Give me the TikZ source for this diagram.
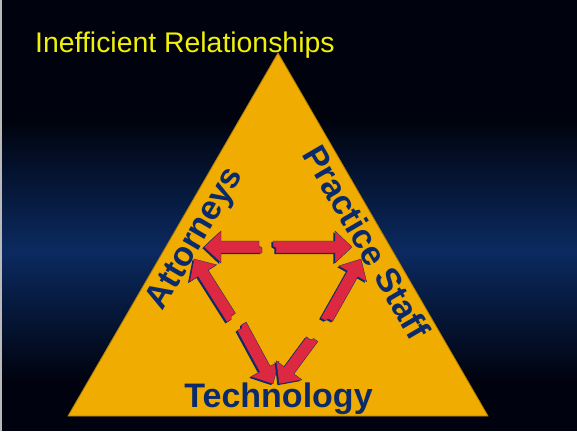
\documentclass[tikz,border=0pt]{standalone}
\usepackage{fontspec}
\setmainfont{Liberation Sans}
\usetikzlibrary{calc}
\definecolor{navy}{HTML}{0B2A6B}
\definecolor{arrred}{HTML}{DC2840}
\definecolor{gold}{HTML}{F0AC00}
\definecolor{golded}{HTML}{B07E08}
\definecolor{ttl}{HTML}{F0F00A}
\definecolor{bgtop}{HTML}{00030E}
\definecolor{bgmid}{HTML}{0B2A60}
\definecolor{bgbot}{HTML}{00030F}
\tikzset{
  arrshadow/.style={fill=navy, transform canvas={shift={(-1.6pt,-1.2pt)}}},
  arrbody/.style={fill=arrred, draw=navy, line width=0.3pt},
  label/.style={text=navy, font=\bfseries\fontsize{34}{36}\selectfont, inner sep=0pt},
}
\newcommand\blockarr[2]{%
  \path ($(#2)!17pt!(#1)$) coordinate (hb) ($(#1)!3pt!(#2)$) coordinate (tj);
  \foreach \sty in {arrshadow,arrbody}{%
    \path[\sty] ($(#1)!6pt!90:(#2)$) -- ($(hb)!6pt!90:(#2)$) -- ($(hb)!16pt!90:(#2)$) -- (#2)
      -- ($(hb)!16pt!-90:(#2)$) -- ($(hb)!6pt!-90:(#2)$) -- ($(tj)!6pt!-90:(#2)$)
      -- ($(tj)!1pt!-90:(#2)$) -- ($(#1)!1pt!90:(#2)$) -- cycle;}%
}
\begin{document}
\begin{tikzpicture}[x=1pt,y=1pt]
\useasboundingbox (0,0) rectangle (577,-431);
% background
\fill[bgtop] (0,0) rectangle (577,-120);
\fill[top color=bgtop,bottom color=bgmid] (0,-120) rectangle (577,-250);
\fill[top color=bgmid,bottom color=bgbot] (0,-250) rectangle (577,-380);
\fill[bgbot] (0,-380) rectangle (577,-431);
\fill[gray!55] (0,0) rectangle (1.5,-431);
% triangle
\coordinate (apex) at (278,-53);
\coordinate (bl) at (68,-416);
\coordinate (br) at (488,-416);
\fill[gold, draw=golded, line width=0.8pt, line join=miter] (apex) -- (bl) -- (br) -- cycle;
% title
\node[anchor=base west, text=ttl, font=\fontsize{28.4}{30}\selectfont, inner sep=0pt] (title) at (35,-52.7) {Inefficient Relationships};
% labels
\node[label, rotate=59.6] (att) at (196,-239) {Attorneys};
\node[label, rotate=-59.7] (prac) at (367,-242) {Practice Staff};
\node[label, anchor=base] (tech) at (278.5,-407) {Technology};
% arrows
\coordinate (t1) at (262,-247); \coordinate (p1) at (204,-247);
\coordinate (t2) at (273,-247); \coordinate (p2) at (352,-247);
\coordinate (t3) at (232,-319); \coordinate (p3) at (194,-259);
\coordinate (t4) at (241,-325); \coordinate (p4) at (273,-384);
\coordinate (t5) at (326,-321); \coordinate (p5) at (361,-259);
\coordinate (t6) at (313,-338); \coordinate (p6) at (279,-384);
\blockarr{t1}{p1}
\blockarr{t2}{p2}
\blockarr{t3}{p3}
\blockarr{t4}{p4}
\blockarr{t5}{p5}
\blockarr{t6}{p6}
\end{tikzpicture}
\end{document}
